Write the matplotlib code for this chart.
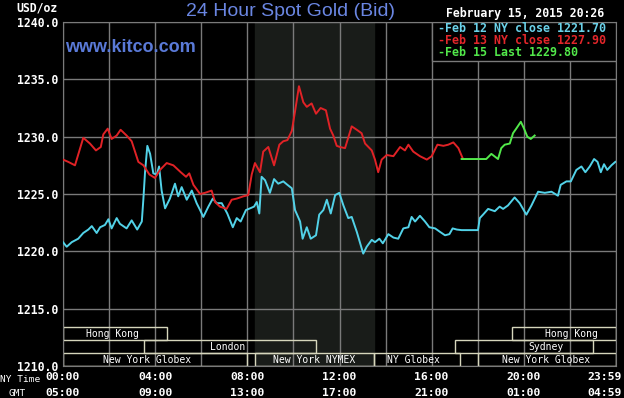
import matplotlib
matplotlib.use("Agg")
import matplotlib.pyplot as plt
from matplotlib.patches import Rectangle

# ---- data (NY time in hours, price in USD/oz) ----
feb12_t = [0.0, 0.16, 0.38, 0.66, 0.88, 1.10, 1.25, 1.46, 1.61, 1.82, 1.97, 2.11,
           2.33, 2.47, 2.76, 2.98, 3.22, 3.42, 3.49, 3.56, 3.66, 3.78, 3.92, 4.07,
           4.17, 4.28, 4.43, 4.64, 4.86, 5.00, 5.15, 5.37, 5.59, 5.80, 5.95, 6.09,
           6.31, 6.50, 6.67, 6.89, 7.13, 7.37, 7.54, 7.71, 7.94, 8.12, 8.29, 8.41,
           8.52, 8.62, 8.77, 8.98, 9.16, 9.34, 9.56, 9.74, 9.93, 10.07, 10.29, 10.40,
           10.58, 10.75, 10.98, 11.12, 11.30, 11.45, 11.62, 11.81, 11.99, 12.17,
           12.38, 12.53, 12.75, 13.03, 13.18, 13.40, 13.54, 13.73, 13.88, 14.12,
           14.34, 14.55, 14.77, 14.99, 15.13, 15.28, 15.49, 15.71, 15.90, 16.15,
           16.36, 16.58, 16.77, 16.91, 17.09, 17.30, 18.01, 18.09, 18.23, 18.45,
           18.74, 18.95, 19.10, 19.31, 19.60, 19.82, 20.11, 20.33, 20.62, 20.91,
           21.20, 21.48, 21.60, 21.85, 22.04, 22.28, 22.50, 22.67, 22.86, 23.05,
           23.20, 23.34, 23.48, 23.62, 23.80, 23.97]
feb12_p = [1220.8, 1220.4, 1220.8, 1221.1, 1221.6, 1221.9, 1222.2, 1221.6, 1222.1, 1222.3,
           1222.8, 1222.0, 1222.9, 1222.4, 1222.0, 1222.7, 1221.9, 1222.6, 1224.6, 1226.9,
           1229.2, 1228.5, 1226.8, 1226.7, 1227.4, 1225.3, 1223.75, 1224.6, 1225.9, 1224.8,
           1225.6, 1224.5, 1225.3, 1224.2, 1223.6, 1223.0, 1223.9, 1224.6, 1224.2, 1224.2,
           1223.3, 1222.1, 1222.9, 1222.6, 1223.6, 1223.75, 1223.9, 1224.3, 1223.3, 1226.5,
           1226.2, 1225.1, 1226.3, 1225.9, 1226.1, 1225.8, 1225.5, 1223.6, 1222.6, 1221.1,
           1222.1, 1221.1, 1221.4, 1223.2, 1223.6, 1224.5, 1223.3, 1224.9, 1225.1, 1224.0,
           1222.9, 1223.0, 1221.7, 1219.8, 1220.4, 1221.0, 1220.8, 1221.1, 1220.7, 1221.5,
           1221.2, 1221.1, 1222.0, 1222.1, 1223.0, 1222.6, 1223.1, 1222.6, 1222.1, 1222.0,
           1221.7, 1221.4, 1221.5, 1222.0, 1221.9, 1221.85, 1221.85, 1222.9, 1223.2, 1223.7,
           1223.5, 1223.9, 1223.7, 1224.0, 1224.7, 1224.2, 1223.2, 1224.0, 1225.2, 1225.1,
           1225.2, 1224.85, 1225.8, 1226.1, 1226.1, 1227.1, 1227.4, 1226.9, 1227.4, 1228.05,
           1227.8, 1226.9, 1227.6, 1227.1, 1227.5, 1227.8]

feb13_t = [0.0, 0.23, 0.52, 0.88, 1.17, 1.43, 1.64, 1.75, 1.94, 2.11, 2.33, 2.50, 2.76,
           2.98, 3.27, 3.49, 3.75, 3.99, 4.21, 4.50, 4.79, 5.11, 5.34, 5.48, 5.66, 5.95,
           6.16, 6.45, 6.60, 6.81, 7.10, 7.32, 7.54, 7.83, 8.04, 8.19, 8.33, 8.55, 8.69,
           8.91, 9.16, 9.39, 9.56, 9.74, 9.93, 10.07, 10.24, 10.43, 10.58, 10.79, 10.98,
           11.18, 11.41, 11.59, 11.73, 11.88, 12.02, 12.24, 12.53, 12.75, 12.96, 13.11,
           13.40, 13.54, 13.68, 13.83, 14.05, 14.34, 14.63, 14.84, 14.99, 15.20, 15.49,
           15.79, 16.00, 16.25, 16.51, 16.72, 16.94, 17.16, 17.35]
feb13_p = [1228.0, 1227.8, 1227.5, 1229.9, 1229.4, 1228.8, 1229.1, 1230.2, 1230.7, 1229.8,
           1230.1, 1230.6, 1230.1, 1229.6, 1227.8, 1227.5, 1226.7, 1226.4, 1227.1, 1227.7,
           1227.5, 1226.9, 1226.5, 1226.8, 1225.8, 1225.0, 1225.1, 1225.3, 1224.3, 1223.9,
           1223.7, 1224.5, 1224.6, 1224.8, 1224.9, 1226.7, 1227.7, 1226.9, 1228.7, 1229.1,
           1227.5, 1229.3, 1229.6, 1229.7, 1230.5, 1232.2, 1234.4, 1233.0, 1232.6, 1232.9,
           1232.0, 1232.5, 1232.3, 1230.7, 1230.1, 1229.2, 1229.1, 1229.0, 1230.9, 1230.6,
           1230.3, 1229.4, 1228.8, 1228.0, 1226.9, 1228.0, 1228.4, 1228.3, 1229.1, 1228.8,
           1229.3, 1228.7, 1228.3, 1228.0, 1228.3, 1229.3, 1229.2, 1229.3, 1229.5, 1229.0,
           1228.1]

feb15_t = [17.30, 18.37, 18.59, 18.88, 19.02, 19.17, 19.39, 19.53, 19.67, 19.87, 20.01,
           20.15, 20.30, 20.47]
feb15_p = [1228.05, 1228.05, 1228.5, 1228.05, 1229.0, 1229.3, 1229.4, 1230.3, 1230.7,
           1231.3, 1230.7, 1230.0, 1229.8, 1230.1]

legend_labels = ["-Feb 12 NY close 1221.70",
                 "-Feb 13 NY close 1227.90",
                 "-Feb 15 Last 1229.80"]

# market sessions: name, row (0 = top), start, end (NY hours), label position
session_names = ["Hong Kong", "Hong Kong", "London", "Sydney",
                 "New York Globex", "New York NYMEX", "NY Globex", "New York Globex"]
session_rows = [0, 0, 1, 1, 2, 2, 2, 2]
session_start = [0.0, 19.5, 3.5, 17.0, 0.0, 8.33, 13.5, 18.0]
session_end = [4.5, 24.0, 11.0, 23.0, 8.0, 13.5, 17.25, 24.0]
session_label_at = [2.13, 22.05, 7.16, 20.96, 3.65, 10.9, 15.19, 20.96]

ny_ticks = [0, 4, 8, 12, 16, 20, 23.5]
ny_labels = ["00:00", "04:00", "08:00", "12:00", "16:00", "20:00", "23:59"]
gmt_labels = ["05:00", "09:00", "13:00", "17:00", "21:00", "01:00", "04:59"]

nymex_open, nymex_close = 8.33, 13.5

# ---- figure ----
W, H = 624, 398
fig = plt.figure(figsize=(W / 100, H / 100), dpi=100, facecolor="black")
ax = fig.add_axes([63 / W, 1 - 366 / H, 553 / W, 344 / H], facecolor="black")

mono = "DejaVu Sans Mono"
gridc = "#7a7a7a"
boxc = "#d6d6bc"
cyan = "#52d2e8"
red = "#e02226"
green = "#52e84a"

ax.set_xlim(0, 24)
ax.set_ylim(1210, 1240)
ax.axvspan(nymex_open, nymex_close, color="#191c19", zorder=0)

ax.set_xticks(range(0, 25, 2))
ax.set_xticklabels([])
ax.set_yticks(range(1210, 1241, 5))
ax.set_yticklabels(["%.1f" % v for v in range(1210, 1241, 5)],
                   fontfamily=mono, fontweight="bold", fontsize=8.3, color="white")
ax.tick_params(length=0, pad=3.6)
ax.grid(True, color=gridc, linewidth=1.0, zorder=1)
ax.set_axisbelow(True)
for s in ax.spines.values():
    s.set_color(gridc)

# session boxes
row_h = 1.13
for name, row, t0, t1, lx in zip(session_names, session_rows, session_start,
                                 session_end, session_label_at):
    y0 = 1210 + (2 - row) * row_h
    ax.add_patch(Rectangle((t0, y0), t1 - t0, row_h, fill=False,
                           edgecolor=boxc, linewidth=1.0, zorder=2))
    ax.text(lx, y0 + row_h / 2, name, fontfamily=mono, fontsize=7,
            color="white", ha="center", va="center", zorder=2)

ax.plot(feb12_t, feb12_p, color=cyan, linewidth=1.4, zorder=3)
ax.plot(feb13_t, feb13_p, color=red, linewidth=1.4, zorder=3)
ax.plot(feb15_t, feb15_p, color=green, linewidth=1.4, zorder=3)

# legend box
ax.add_patch(Rectangle((16.0, 1236.6), 8.0, 3.4, facecolor="black",
                       edgecolor=gridc, linewidth=1.0, zorder=5))
for i, (lab, c) in enumerate(zip(legend_labels, ["#6ad2ea", "#e3262a", "#52e84a"])):
    fig.text(438 / W, 1 - (28.3 + 12 * i) / H, lab, fontfamily=mono,
             fontweight="bold", fontsize=8.4, color=c, va="center", ha="left")

# bottom time labels
xt = ax.get_xaxis_transform()
for t, a, b in zip(ny_ticks, ny_labels, gmt_labels):
    ax.text(t, -0.031, a, transform=xt, fontfamily=mono, fontweight="bold",
            fontsize=8.2, color="white", ha="center", va="center")
    ax.text(t, -0.078, b, transform=xt, fontfamily=mono, fontweight="bold",
            fontsize=8.2, color="white", ha="center", va="center")
fig.text(0.0, 1 - 380 / H, "NY Time", fontfamily=mono, fontsize=6.8,
         color="white", ha="left", va="center")
fig.text(17 / W, 1 - 393 / H, "GMT", fontfamily=mono, fontsize=6.8,
         color="white", ha="center", va="center")

# headers
fig.text(58 / W, 1 - 8 / H, "USD/oz", fontfamily=mono, fontweight="bold",
         fontsize=8.3, color="white", ha="right", va="center")
fig.text(291 / W, 1 - 11 / H, "24 Hour Spot Gold (Bid)", fontfamily="Liberation Sans",
         fontsize=14, color="#6a86e2", ha="center", va="center")
fig.text(525 / W, 1 - 14 / H, "February 15, 2015 20:26", fontfamily=mono,
         fontweight="bold", fontsize=8.3, color="white", ha="center", va="center")
fig.text(65 / W, 1 - 47.5 / H, "www.kitco.com", fontfamily="Liberation Sans",
         fontweight="bold", fontsize=13, color="#5a7ad8", ha="left", va="center")

fig.savefig("out.png", dpi=100, facecolor="black")
